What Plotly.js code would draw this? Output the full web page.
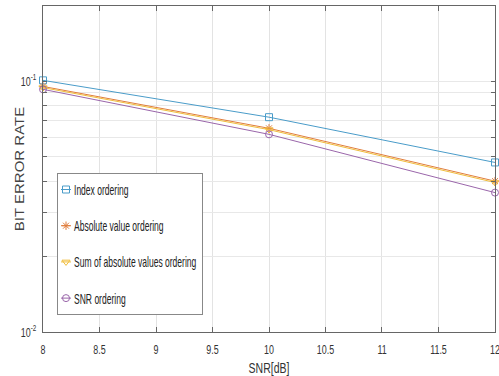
<!DOCTYPE html>
<html><head><meta charset="utf-8">
<script src="https://cdn.plot.ly/plotly-3.0.1.min.js"></script>
<style>html,body{margin:0;padding:0;background:#fff;}#chart{width:499px;height:376px;}</style>
</head><body><div id="chart"></div>
<script>
const snr = [8, 10, 12];
const seriesNames = ["Index ordering", "Absolute value ordering", "Sum of absolute values ordering", "SNR ordering"];
const berIndex = [0.101, 0.072, 0.0475];
const berAbsolute = [0.0955, 0.065, 0.0400];
const berSum = [0.0945, 0.0642, 0.0395];
const berSnr = [0.0930, 0.0615, 0.0360];
const xTicks = [8, 8.5, 9, 9.5, 10, 10.5, 11, 11.5, 12];
const xTickText = ["8", "8.5", "9", "9.5", "10", "10.5", "11", "11.5", "12"];
const yTicks = [0.01,0.02,0.03,0.04,0.05,0.06,0.07,0.08,0.09,0.1,0.2];
const yTickText = ["10<sup>-2</sup>","","","","","","","","","10<sup>-1</sup>",""];

const colors = ["#4a9cc9", "#e07d3c", "#f0bd3c", "#9a66aa"];
const symbols = ["square-open", "asterisk-open", "triangle-down-open", "circle-open"];
const ys = [berIndex, berAbsolute, berSum, berSnr];

const traces = ys.map((y, i) => ({
  x: snr, y: y, name: seriesNames[i], type: "scatter", mode: "lines+markers",
  legendgroup: "g" + i, cliponaxis: false,
  line: {color: colors[i], width: 1},
  marker: {symbol: symbols[i], size: 7, color: colors[i], line: {color: colors[i], width: 1}}
}));

const font = "Liberation Sans, Arial, sans-serif";
const layout = {
  width: 499, height: 376,
  margin: {l: 43, r: 4, t: 6, b: 44},
  paper_bgcolor: "#fff", plot_bgcolor: "#fff",
  font: {family: font, size: 13, color: "#333"},
  showlegend: true,
  legend: {
    x: 0.031, y: 0.488, xanchor: "left", yanchor: "top",
    bgcolor: "#fff", bordercolor: "#888", borderwidth: 1,
    font: {family: font, size: 14, color: "#222"},
    tracegroupgap: 15, itemwidth: 30
  },
  xaxis: {
    range: [7.9999, 12.0001], tickmode: "array", tickvals: xTicks, ticktext: xTickText,
    showgrid: true, gridcolor: "#e3e3e3", gridwidth: 1,
    showline: true, linecolor: "#666", linewidth: 1, mirror: "allticks",
    ticks: "inside", ticklen: 5, tickcolor: "#666", zeroline: false,
    ticklabelstandoff: 5, ticklabeloverflow: "allow",
    tickfont: {family: font, size: 13.5, color: "#333"},
    title: {text: "SNR[dB]", font: {family: font, size: 14, color: "#333"}, standoff: 9}
  },
  yaxis: {
    type: "log", range: [-2, Math.log10(0.2)],
    tickmode: "array", tickvals: yTicks, ticktext: yTickText,
    showgrid: true, gridcolor: "#e8e8e8", gridwidth: 1,
    showline: true, linecolor: "#666", linewidth: 1, mirror: "allticks",
    ticks: "inside", ticklen: 4, tickcolor: "#666", zeroline: false,
    ticklabelstandoff: 3, ticklabeloverflow: "allow",
    tickfont: {family: font, size: 13.5, color: "#333"},
    title: {text: "BIT ERROR RATE", font: {family: font, size: 15, color: "#444"}, standoff: 10}
  }
};

// Narrow the text horizontally, as in the reference picture.
function squeeze(el, sx, sy) {
  const bb = el.getBBox();
  const anchor = el.getAttribute("text-anchor") || "start";
  let ax = bb.x;
  if (anchor === "middle") ax = bb.x + bb.width / 2;
  else if (anchor === "end") ax = bb.x + bb.width;
  const ay = bb.y + bb.height / 2;
  const prev = el.getAttribute("transform") || "";
  el.setAttribute("transform", prev + " translate(" + ax + "," + ay + ") scale(" + sx + "," + sy + ") translate(" + (-ax) + "," + (-ay) + ")");
  return bb.width * (1 - sx);
}

Plotly.newPlot("chart", traces, layout, {displayModeBar: false, staticPlot: true}).then(gd => {
  gd.querySelectorAll(".xtick text, .ytick text").forEach(t => squeeze(t, 0.66, 1));
  const xt = gd.querySelector(".xtitle"); if (xt) squeeze(xt, 0.75, 1);
  const yt = gd.querySelector(".ytitle");
  if (yt) {
    squeeze(yt, 1, 0.85);
    const r = yt.getBoundingClientRect();
    const dx = 19.5 - (r.left + r.width / 2);
    yt.setAttribute("transform", "translate(" + dx + ",0) " + yt.getAttribute("transform"));
  }
  // Compact legend entries: short line with marker, text close to it.
  const shift = 24;
  let cut = 0;
  gd.querySelectorAll(".legend .traces").forEach(g => {
    const line = g.querySelector(".legendlines path");
    if (line) line.setAttribute("d", "M15,0h10");
    const layers = g.querySelector(".layers");
    if (layers) layers.setAttribute("transform", "translate(-12,0)");
    const t = g.querySelector(".legendtext");
    if (t) {
      t.setAttribute("x", parseFloat(t.getAttribute("x")) - shift);
      cut = Math.max(cut, squeeze(t, 0.61, 1));
    }
  });
  const bg = gd.querySelector(".legend rect.bg");
  if (bg) bg.setAttribute("width", parseFloat(bg.getAttribute("width")) - cut - shift);
});
</script></body></html>
